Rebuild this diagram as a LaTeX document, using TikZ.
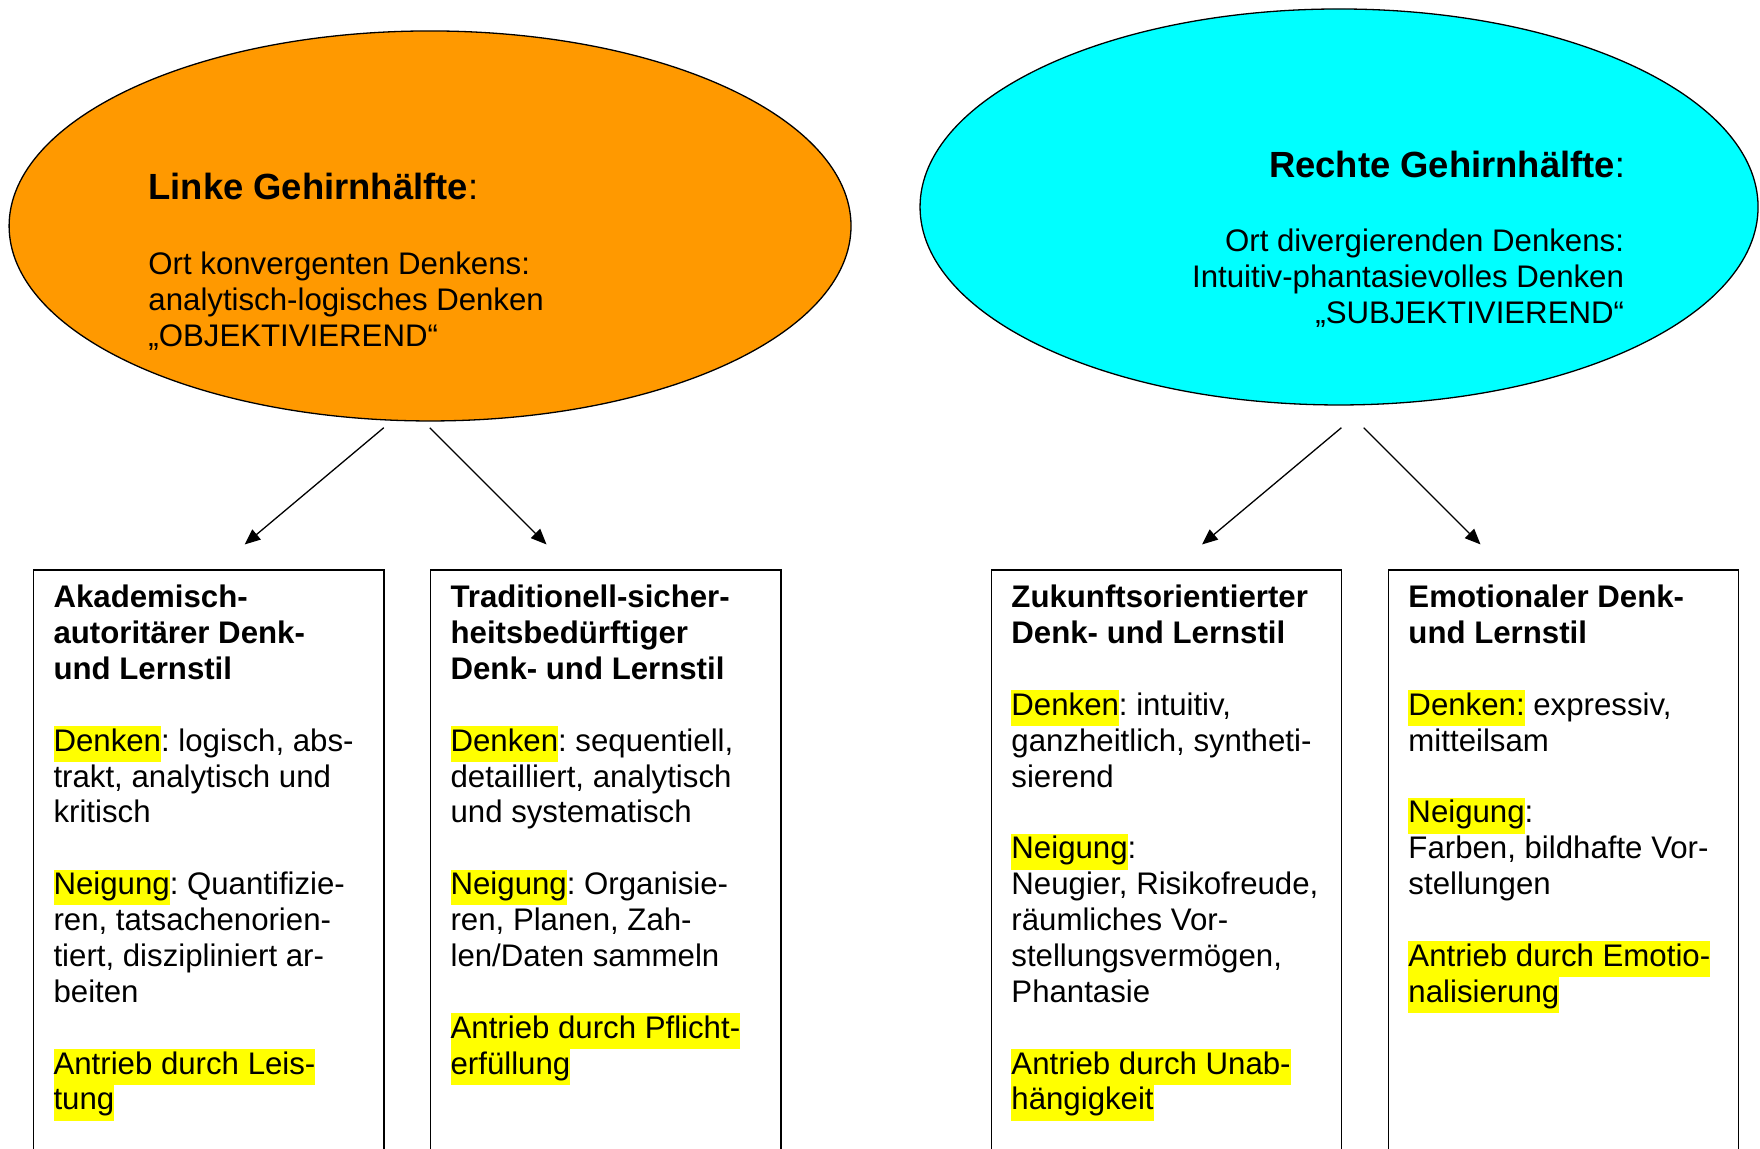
\documentclass[tikz,border=0pt]{standalone}
\usepackage{fontspec}
\setmainfont{Liberation Sans}
\usetikzlibrary{positioning,arrows.meta,shapes.geometric}
\frenchspacing

\definecolor{hemiorange}{HTML}{FF9900}
\definecolor{hemicyan}{HTML}{00FFFF}
\definecolor{marker}{HTML}{FFFF00}
\newcommand{\hili}[1]{{\setlength{\fboxsep}{0pt}\colorbox{marker}{\strut #1}}}

\begin{document}
\begin{tikzpicture}[x=1pt, y=-1pt, node distance=17.4pt,
  hemi/.style={ellipse, draw, line width=0.5pt, inner sep=0pt},
  kopf/.style={inner sep=0pt, font={\fontsize{14}{16.1}\selectfont}},
  stiltext/.style={inner sep=0pt, align=left, font={\fontsize{12}{13.8}\selectfont}},
  stilbox/.style={draw, line width=0.6pt, minimum width=134.7pt, minimum height=260pt, inner sep=0pt},
  pfeil/.style={-{Triangle[length=6pt, width=5pt]}, line width=0.5pt}]
\useasboundingbox (0,0) rectangle (676.9,441.9);
\clip (0,0) rectangle (676.9,441.9);

% Gehirnhaelften
\node[hemi, fill=hemiorange, minimum width=323.8pt, minimum height=150pt] (links) at (165.4,86.9) {};
\node[hemi, fill=hemicyan, minimum width=322.3pt, minimum height=152.3pt] (rechts) at (515,79.6) {};

\node[kopf, anchor=base west] (linkskopf) at (56.9,76.9) {\textbf{Linke Gehirnhälfte}:};
\node[stiltext, anchor=north west] (linkstext) at (56.9,95.7)
  {\strut Ort konvergenten Denkens:\\analytisch-logisches Denken\\„OBJEKTIVIEREND“};
\node[kopf, anchor=base east] (rechtskopf) at (625.2,68.2) {\textbf{Rechte Gehirnhälfte}:};
\node[stiltext, align=right, anchor=north east] (rechtstext) at (624.8,87.0)
  {\strut Ort divergierenden Denkens:\\Intuitiv-phantasievolles Denken\\„SUBJEKTIVIEREND“};

% Lernstile
\node[stilbox, anchor=north west] (akad) at (12.6,218.9) {};
\node[stilbox, right=of akad] (trad) {};
\node[stilbox, right=80.4pt of trad] (zuk) {};
\node[stilbox, right=of zuk] (emo) {};

\node[stiltext, below right=4.94pt and 7.8pt of akad.north west] (akadtxt) {%
  \strut\textbf{Akademisch-}\\
  \textbf{autoritärer Denk-}\\
  \textbf{und Lernstil}\\[13.8pt]
  \hili{Denken}: logisch, abs-\\
  trakt, analytisch und\\
  kritisch\\[13.8pt]
  \hili{Neigung}: Quantifizie-\\
  ren, tatsachenorien-\\
  tiert, diszipliniert ar-\\
  beiten\\[13.8pt]
  \hili{Antrieb durch Leis-}\\
  \hili{tung}};
\node[stiltext, below right=4.94pt and 7.8pt of trad.north west] (tradtxt) {%
  \strut\textbf{Traditionell-sicher-}\\
  \textbf{heitsbedürftiger}\\
  \textbf{Denk- und Lernstil}\\[13.8pt]
  \hili{Denken}: sequentiell,\\
  detailliert, analytisch\\
  und systematisch\\[13.8pt]
  \hili{Neigung}: Organisie-\\
  ren, Planen, Zah-\\
  len/Daten sammeln\\[13.8pt]
  \hili{Antrieb durch Pflicht-}\\
  \hili{erfüllung}};
\node[stiltext, below right=4.94pt and 7.8pt of zuk.north west] (zuktxt) {%
  \strut\textbf{Zukunftsorientierter}\\
  \textbf{Denk- und Lernstil}\\[13.8pt]
  \hili{Denken}: intuitiv,\\
  ganzheitlich, syntheti-\\
  sierend\\[13.8pt]
  \hili{Neigung}:\\
  Neugier, Risikofreude,\\
  räumliches Vor-\\
  stellungsvermögen,\\
  Phantasie\\[13.8pt]
  \hili{Antrieb durch Unab-}\\
  \hili{hängigkeit}};
\node[stiltext, below right=4.94pt and 7.8pt of emo.north west] (emotxt) {%
  \strut\textbf{Emotionaler Denk-}\\
  \textbf{und Lernstil}\\[13.8pt]
  \hili{Denken:} expressiv,\\
  mitteilsam\\[13.8pt]
  \hili{Neigung}:\\
  Farben, bildhafte Vor-\\
  stellungen\\[13.8pt]
  \hili{Antrieb durch Emotio-}\\
  \hili{nalisierung}};

% Pfeile
\coordinate (la1) at (147.6,164.5);
\coordinate (le1) at (94.1,209.4);
\coordinate (la2) at (165.3,164.5);
\coordinate (le2) at (210.2,209.4);
\coordinate (ra1) at (515.9,164.5);
\coordinate (re1) at (462.3,209.4);
\coordinate (ra2) at (524.5,164.5);
\coordinate (re2) at (569.4,209.4);
\draw[pfeil] (la1) -- (le1);
\draw[pfeil] (la2) -- (le2);
\draw[pfeil] (ra1) -- (re1);
\draw[pfeil] (ra2) -- (re2);
\end{tikzpicture}
\end{document}
